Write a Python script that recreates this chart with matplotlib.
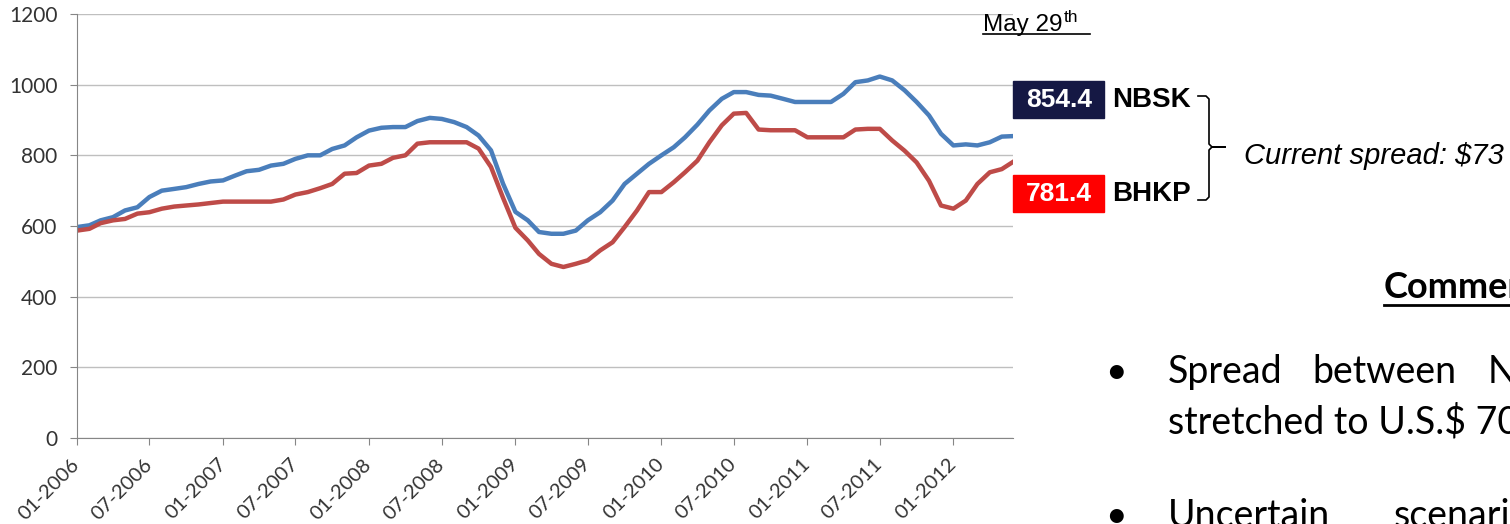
import numpy as np
import pandas as pd
import matplotlib
matplotlib.use('Agg')
import matplotlib.pyplot as plt
import matplotlib.dates as mdates
from matplotlib.patches import Rectangle
from matplotlib.lines import Line2D

# monthly readings, Jan 2006 .. May 2012, plus the last quote on May 29th 2012
dates = list(pd.date_range('2006-01-01', '2012-05-01', freq='MS')) + [pd.Timestamp('2012-05-29')]

nbsk = [597, 602, 616, 625, 644, 653, 682, 700, 705, 710, 719, 726,
        729, 743, 755, 759, 771, 776, 790, 800, 800, 818, 828, 851,
        870, 878, 880, 880, 897, 906, 903, 894, 880, 856, 814, 720,
        640, 616, 583, 578, 578, 587, 616, 639, 672, 719, 748, 776,
        800, 823, 851, 887, 927, 960, 979, 979, 971, 969, 960, 951,
        951, 951, 951, 974, 1007, 1012, 1023, 1012, 984, 951, 913, 861,
        828, 831, 828, 837, 853, 854.4]

bhkp = [587, 592, 608, 616, 620, 635, 639, 649, 655, 658, 661, 665,
        669, 669, 669, 669, 669, 675, 689, 696, 707, 719, 748, 750,
        771, 776, 793, 800, 833, 837, 837, 837, 837, 819, 767, 680,
        595, 559, 521, 493, 484, 493, 503, 531, 554, 597, 644, 696,
        696, 724, 752, 785, 837, 885, 918, 920, 873, 871, 871, 871,
        851, 851, 851, 851, 873, 875, 875, 842, 813, 780, 728, 658,
        649, 672, 719, 752, 761, 781.4]

last_nbsk = "854.4"
last_bhkp = "781.4"
spread_text = "Current spread: $73"

W, H = 1510, 524
def fx(px):
    return px / W
def fy(py):
    return 1 - py / H

fig = plt.figure(figsize=(15.1, 5.24), dpi=100)
ax = fig.add_axes([fx(77), fy(438), (1013 - 77) / W, (438 - 14) / H])

ax.plot(dates, nbsk, color='#4a7ebb', lw=3.2, solid_joinstyle='round')
ax.plot(dates, bhkp, color='#be4b48', lw=3.2, solid_joinstyle='round')

ax.set_ylim(0, 1200)
ax.set_yticks(range(0, 1201, 200))
ax.set_xlim(pd.Timestamp('2006-01-01'), pd.Timestamp('2012-05-29'))
ax.xaxis.set_major_locator(mdates.MonthLocator(bymonth=[1, 7]))
ax.xaxis.set_major_formatter(mdates.DateFormatter('%m-%Y'))

ax.grid(axis='y', color='#bfbfbf', lw=1)
ax.set_axisbelow(True)
for s in ['top', 'right']:
    ax.spines[s].set_visible(False)
for s in ['left', 'bottom']:
    ax.spines[s].set_color('#868686')
ax.tick_params(axis='both', direction='out', length=5, color='#868686',
               labelcolor='#333333')
ax.tick_params(axis='y', pad=9, labelsize=15)
ax.tick_params(axis='x', pad=12, labelsize=14.5)
for lab in ax.get_yticklabels():
    lab.set_fontfamily('Lato')
for lab in ax.get_xticklabels():
    lab.set_fontfamily('Lato')
    lab.set_rotation(45)
    lab.set_ha('right')
    lab.set_va('center')
    lab.set_rotation_mode('anchor')

# "May 29th" header
fig.text(fx(983), fy(31), "May 29", fontsize=17.5, family='Liberation Sans', va='baseline')
fig.text(fx(1064), fy(22), "th", fontsize=12.5, family='Liberation Sans', va='baseline')
fig.add_artist(Line2D([fx(983), fx(1090)], [fy(34), fy(34)], color='black', lw=1.2,
                      transform=fig.transFigure))

# value boxes
fig.add_artist(Rectangle((fx(1013), fy(118)), 91 / W, 37 / H, color='#151844',
                         transform=fig.transFigure))
fig.add_artist(Rectangle((fx(1013), fy(212)), 91 / W, 37 / H, color='#ff0000',
                         transform=fig.transFigure))
fig.text(fx(1059), fy(100), last_nbsk, color='white', fontsize=19, weight='bold',
         family='Liberation Sans', ha='center', va='center')
fig.text(fx(1059), fy(194), last_bhkp, color='white', fontsize=19, weight='bold',
         family='Liberation Sans', ha='center', va='center')
fig.text(fx(1112), fy(100), "NBSK", fontsize=20, weight='bold',
         family='Liberation Sans', va='center')
fig.text(fx(1112), fy(194), "BHKP", fontsize=20, weight='bold',
         family='Liberation Sans', va='center')

# bracket
bx = [1198, 1206, 1209, 1209, 1212, 1225, 1212, 1209, 1209, 1206, 1198]
by = [96, 96, 99, 144, 147, 147, 147, 150, 197, 200, 200]
fig.add_artist(Line2D([fx(v) for v in bx], [fy(v) for v in by], color='black', lw=1.2,
                      transform=fig.transFigure))
fig.text(fx(1244), fy(164), spread_text, fontsize=21, style='italic',
         family='Liberation Sans', va='baseline')

# comments panel
fig.text(fx(1384), fy(298), "Comments", fontsize=26, weight='bold', family='Lato',
         va='baseline')
fig.add_artist(Line2D([fx(1384), fx(1515)], [fy(305), fy(305)], color='black', lw=2,
                      transform=fig.transFigure))

fig.text(fx(1105), fy(383), "•", fontsize=27, family='Lato', va='baseline')
fig.text(fx(1168), fy(383), "Spread", fontsize=27, family='Lato', va='baseline')
fig.text(fx(1312), fy(383), "between", fontsize=27, family='Lato', va='baseline')
fig.text(fx(1488), fy(383), "NBSK", fontsize=27, family='Lato', va='baseline')
fig.text(fx(1168), fy(433), "stretched to U.S.$ 70", fontsize=27, family='Lato',
         va='baseline')
fig.text(fx(1105), fy(527), "•", fontsize=27, family='Lato', va='baseline')
fig.text(fx(1168), fy(527), "Uncertain", fontsize=27, family='Lato', va='baseline')
fig.text(fx(1394), fy(527), "scenario", fontsize=27, family='Lato', va='baseline')

fig.savefig('out.png', dpi=100)
